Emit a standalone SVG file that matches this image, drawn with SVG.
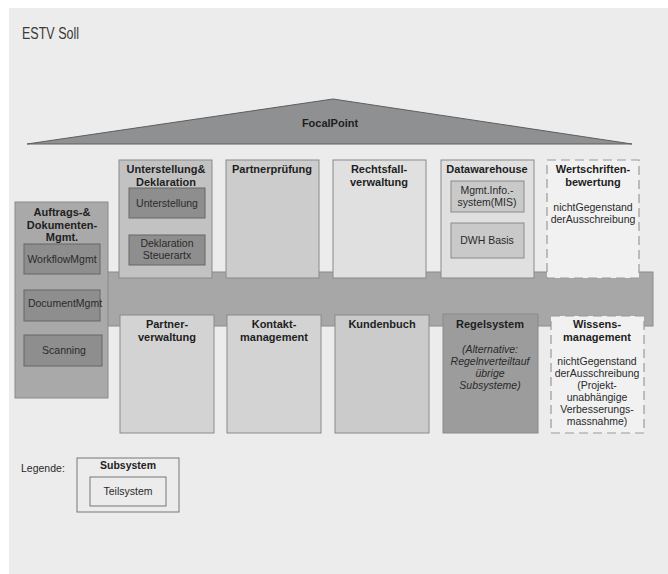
<svg xmlns="http://www.w3.org/2000/svg" width="668" height="574" viewBox="0 0 668 574">
  <defs>
    <style>
      text { font-family: "Liberation Sans", Arial, sans-serif; fill: #1e1e1e; text-anchor: middle; }
      .t { font-size: 11px; font-weight: bold; }
      .n { font-size: 10.5px; fill: #2a2a2a; }
      .i { font-size: 10.5px; font-style: italic; fill: #2a2a2a; }
      .box { stroke: #8a8a8a; stroke-width: 1; }
      .dash { fill: #f1f1f1; stroke: #9a9a9a; stroke-width: 1.2; stroke-dasharray: 9 5; }
      .inner { fill: #8e8e8e; stroke: #666; stroke-width: 1; }
      .innerL { fill: #c9c9c9; stroke: #8a8a8a; stroke-width: 1; }
    </style>
  </defs>

  <!-- page background -->
  <rect x="0" y="0" width="668" height="574" fill="#ffffff"/>
  <rect x="9" y="8" width="659" height="566" fill="#ececec"/>

  <text x="22" y="39" textLength="57" lengthAdjust="spacingAndGlyphs" style="font-size:16px;text-anchor:start;fill:#3a3a3a">ESTV Soll</text>

  <!-- roof -->
  <g id="focalpoint">
    <polygon points="27,144 333,99 632,144" fill="#8f9092" stroke="#5e5e5e" stroke-width="1"/>
    <text class="t" x="330" y="127">FocalPoint</text>
  </g>

  <!-- horizontal integration band -->
  <g id="band">
    <rect x="100" y="272" width="553" height="54" fill="#a7a7a7" stroke="#8a8a8a"/>
  </g>

  <!-- left block -->
  <g id="auftrags">
    <rect class="box" x="15" y="202" width="93" height="196" fill="#a9a9a9"/>
    <text class="t" x="62" y="216">Auftrags-&amp;</text>
    <text class="t" x="62" y="229">Dokumenten-</text>
    <text class="t" x="62" y="241">Mgmt.</text>
    <rect class="inner" x="24" y="244" width="76" height="30"/>
    <text class="n" x="62" y="263">WorkflowMgmt</text>
    <rect class="inner" x="24" y="290" width="76" height="31"/>
    <text class="n" x="65" y="307">DocumentMgmt</text>
    <rect class="inner" x="24" y="335" width="78" height="31"/>
    <text class="n" x="64" y="354">Scanning</text>
  </g>

  <!-- top row -->
  <g id="unterstellung">
    <rect class="box" x="119" y="160" width="93" height="118" fill="#c2c2c2"/>
    <text class="t" x="166" y="173">Unterstellung&amp;</text>
    <text class="t" x="166" y="186">Deklaration</text>
    <rect class="inner" x="129" y="188" width="76" height="30"/>
    <text class="n" x="167" y="207">Unterstellung</text>
    <rect class="inner" x="129" y="235" width="76" height="30"/>
    <text class="n" x="167" y="247">Deklaration</text>
    <text class="n" x="167" y="259">Steuerartx</text>
  </g>

  <g id="partnerpruefung">
    <rect class="box" x="226" y="160" width="93" height="118" fill="#cccccc"/>
    <text class="t" x="272" y="173">Partnerprüfung</text>
  </g>

  <g id="rechtsfall">
    <rect class="box" x="333" y="160" width="93" height="118" fill="#e0e0e0"/>
    <text class="t" x="379" y="173">Rechtsfall-</text>
    <text class="t" x="379" y="186">verwaltung</text>
  </g>

  <g id="datawarehouse">
    <rect class="box" x="441" y="160" width="93" height="118" fill="#e0e0e0"/>
    <text class="t" x="487" y="173">Datawarehouse</text>
    <rect class="innerL" x="451" y="181" width="73" height="31"/>
    <text class="n" x="487" y="194">Mgmt.Info.-</text>
    <text class="n" x="487" y="206">system(MIS)</text>
    <rect class="innerL" x="451" y="223" width="73" height="35"/>
    <text class="n" x="487" y="244">DWH Basis</text>
  </g>

  <g id="wertschriften">
    <rect class="dash" x="547" y="160" width="92" height="118"/>
    <text class="t" x="593" y="173">Wertschriften-</text>
    <text class="t" x="593" y="186">bewertung</text>
    <text class="n" x="593" y="211">nichtGegenstand</text>
    <text class="n" x="593" y="223">derAusschreibung</text>
  </g>

  <!-- bottom row -->
  <g id="partnerverwaltung">
    <rect class="box" x="120" y="315" width="94" height="118" fill="#d3d3d3"/>
    <text class="t" x="167" y="328">Partner-</text>
    <text class="t" x="167" y="341">verwaltung</text>
  </g>

  <g id="kontakt">
    <rect class="box" x="227" y="315" width="94" height="118" fill="#d3d3d3"/>
    <text class="t" x="274" y="328">Kontakt-</text>
    <text class="t" x="274" y="341">management</text>
  </g>

  <g id="kundenbuch">
    <rect class="box" x="335" y="315" width="94" height="118" fill="#cbcbcb"/>
    <text class="t" x="382" y="328">Kundenbuch</text>
  </g>

  <g id="regelsystem">
    <rect class="box" x="443" y="314" width="95" height="119" fill="#9c9c9c"/>
    <text class="t" x="490" y="328">Regelsystem</text>
    <text class="i" x="490" y="353">(Alternative:</text>
    <text class="i" x="490" y="365">Regelnverteiltauf</text>
    <text class="i" x="490" y="377">übrige</text>
    <text class="i" x="490" y="389">Subsysteme)</text>
  </g>

  <g id="wissen">
    <rect class="dash" x="551" y="316" width="93" height="117"/>
    <text class="t" x="597" y="328">Wissens-</text>
    <text class="t" x="597" y="341">management</text>
    <text class="n" x="597" y="365">nichtGegenstand</text>
    <text class="n" x="597" y="377">derAusschreibung</text>
    <text class="n" x="597" y="389">(Projekt-</text>
    <text class="n" x="597" y="401">unabhängige</text>
    <text class="n" x="597" y="413">Verbesserungs-</text>
    <text class="n" x="597" y="425">massnahme)</text>
  </g>

  <!-- legend -->
  <g id="legend">
    <text class="n" x="21" y="472" style="text-anchor:start">Legende:</text>
    <rect x="77" y="458" width="102" height="54" fill="none" stroke="#777"/>
    <text class="t" x="128" y="469" style="font-size:10.5px">Subsystem</text>
    <rect x="90" y="477" width="76" height="29" fill="none" stroke="#777"/>
    <text class="n" x="128" y="495">Teilsystem</text>
  </g>
</svg>
